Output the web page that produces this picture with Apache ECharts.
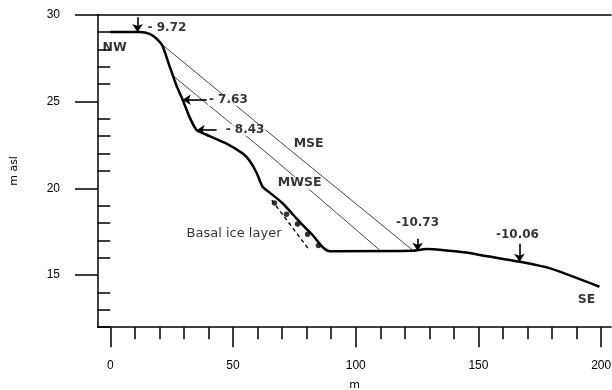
<!DOCTYPE html>
<html>
<head>
<meta charset="utf-8">
<script src="https://cdn.jsdelivr.net/npm/echarts@6/dist/echarts.min.js"></script>
<style>
  html, body { margin: 0; padding: 0; background: #fff; }
  #chart { width: 612px; height: 390px; }
</style>
</head>
<body>
<div id="chart"></div>
<script>
// Surface profile along the NW–SE transect: distance (m) and elevation (m asl)
const profileX = [0, 12, 16, 19, 21.3, 24, 27, 29.5, 32.3, 35.2, 39, 47, 54, 56.7, 59.6, 62, 65, 70.2, 74.7, 78.3, 82.4, 86.5, 89.3, 123, 128.8, 135, 145, 153, 166.7, 178.9, 199.3];
const profileY = [29.0, 29.0, 28.9, 28.6, 28.2, 27.1, 25.9, 25.1, 24.1, 23.35, 23.1, 22.6, 22.0, 21.6, 20.9, 20.1, 19.75, 19.14, 18.45, 17.89, 17.31, 16.62, 16.38, 16.4, 16.5, 16.45, 16.3, 16.1, 15.77, 15.4, 14.33];

// Reconstructed surfaces
const mseX = [20.1, 62.5, 123.1];
const mseY = [28.4, 23.45, 16.45];
const mwseX = [25.4, 64.9, 109.7];
const mwseY = [26.5, 21.9, 16.45];

// Lower boundary of the basal ice layer and the ice markers
const iceBaseX = [65.8, 80.8];
const iceBaseY = [19.32, 16.5];
const iceDotX = [66.9, 71.8, 76.3, 80.4, 84.8];
const iceDotY = [19.15, 18.5, 17.94, 17.36, 16.7];

// Measurement arrows: tail and head in data units
const arrowNames = ['- 9.72', '- 7.63', '- 8.43', '-10.73', '-10.06'];
const arrowFrom = [[11.1, 29.85], [39.3, 25.1], [43.3, 23.35], [125.2, 17.1], [166.7, 16.8]];
const arrowTo = [[11.1, 29.0], [29.5, 25.1], [35.2, 23.35], [125.2, 16.4], [166.7, 15.77]];

// Annotation texts and their anchor points in data units
const noteText = ['- 9.72', '- 7.63', '- 8.43', '-10.73', '-10.06', 'NW', 'SE', 'MSE', 'MWSE', 'Basal ice layer'];
const noteX = [15.2, 39.8, 46.6, 125.2, 165.9, 1.8, 194, 74.3, 67.8, 31.1];
const noteY = [29.22, 25.08, 23.36, 18.0, 17.31, 28.08, 13.57, 22.55, 20.31, 17.41];

// Axis ticks
const xMajorTicks = [0, 50, 100, 150, 200];
const xMinorTicks = [10, 20, 30, 40, 60, 70, 80, 90, 110, 120, 130, 140, 160, 170, 180, 190];
const yMajorTicks = [15, 20, 25, 30];
const yMinorTicks = [12, 13, 14, 16, 17, 18, 19, 21, 22, 23, 24, 26, 27, 28, 29];

const AXIS_FONT = '"Liberation Sans", Arial, sans-serif';
const NOTE_FONT = '"DejaVu Sans", sans-serif';
const zip = (xs, ys) => xs.map((x, i) => [x, ys[i]]);

const noteStyle = {
  '- 9.72': { align: 'left', weight: 'bold', size: 12 },
  '- 7.63': { align: 'left', weight: 'bold', size: 12, bg: true },
  '- 8.43': { align: 'left', weight: 'bold', size: 12, bg: true },
  '-10.73': { align: 'center', weight: 'bold', size: 12 },
  '-10.06': { align: 'center', weight: 'bold', size: 12 },
  'NW': { align: 'center', weight: 'bold', size: 12.5 },
  'SE': { align: 'center', weight: 'bold', size: 12.5 },
  'MSE': { align: 'left', weight: 'bold', size: 12.5, bg: true },
  'MWSE': { align: 'left', weight: 'bold', size: 12.5, bg: true },
  'Basal ice layer': { align: 'left', weight: 'normal', size: 13 }
};

const chart = echarts.init(document.getElementById('chart'), null, { renderer: 'canvas' });

const axisLineStyle = { color: '#000', width: 1.5 };
const hidden = { show: false };

chart.setOption({
  animation: false,
  backgroundColor: '#fff',
  grid: {
    left: 98, top: 14.7, width: 513, height: 312.5,
    containLabel: false, outerBoundsMode: 'none'
  },
  xAxis: [
    {
      type: 'value', min: -5, max: 204, position: 'bottom',
      axisLine: { show: true, onZero: false, lineStyle: axisLineStyle },
      axisTick: { show: true, customValues: xMajorTicks, length: 20, lineStyle: axisLineStyle },
      axisLabel: { customValues: xMajorTicks, margin: 32, fontSize: 12, color: '#000', fontFamily: AXIS_FONT },
      splitLine: hidden,
      name: 'm', nameLocation: 'middle', nameGap: 52,
      nameTextStyle: { fontSize: 11, color: '#000', fontFamily: NOTE_FONT }
    },
    {
      type: 'value', min: -5, max: 204, position: 'bottom',
      axisLine: hidden,
      axisTick: { show: true, customValues: xMinorTicks, length: 12, lineStyle: axisLineStyle },
      axisLabel: hidden, splitLine: hidden
    },
    {
      type: 'value', min: -5, max: 204, position: 'top',
      axisLine: { show: true, onZero: false, lineStyle: axisLineStyle },
      axisTick: hidden, axisLabel: hidden, splitLine: hidden
    }
  ],
  yAxis: [
    {
      type: 'value', min: 12, max: 30, position: 'left',
      axisLine: { show: true, onZero: false, lineStyle: axisLineStyle },
      axisTick: { show: true, customValues: yMajorTicks, length: 23, lineStyle: axisLineStyle },
      axisLabel: { customValues: yMajorTicks, margin: 38, fontSize: 12, color: '#000', fontFamily: AXIS_FONT },
      splitLine: hidden,
      name: 'm asl', nameLocation: 'middle', nameGap: 78, nameRotate: 90,
      nameTextStyle: { fontSize: 11, color: '#000', fontFamily: NOTE_FONT }
    },
    {
      type: 'value', min: 12, max: 30, position: 'left',
      axisLine: hidden,
      axisTick: { show: true, customValues: yMinorTicks, length: 13, lineStyle: axisLineStyle },
      axisLabel: hidden, splitLine: hidden
    }
  ],
  series: [
    {
      name: 'MSE', type: 'line', data: zip(mseX, mseY), showSymbol: false,
      lineStyle: { color: '#333', width: 0.9 }, z: 2
    },
    {
      name: 'MWSE', type: 'line', data: zip(mwseX, mwseY), showSymbol: false,
      lineStyle: { color: '#333', width: 0.9 }, z: 2
    },
    {
      name: 'Basal ice base', type: 'line', data: zip(iceBaseX, iceBaseY), showSymbol: false,
      lineStyle: { color: '#000', width: 1.3, type: [4, 3] }, z: 3
    },
    {
      name: 'Basal ice', type: 'scatter', data: zip(iceDotX, iceDotY),
      symbol: 'circle', symbolSize: 5.5, itemStyle: { color: '#000' }, z: 3
    },
    {
      name: 'Profile', type: 'line', data: zip(profileX, profileY), showSymbol: false,
      smooth: 0.2, lineStyle: { color: '#000', width: 2.5 }, z: 4
    },
    {
      name: 'Labels', type: 'scatter', symbolSize: 1, z: 5, silent: true,
      itemStyle: { color: 'rgba(0,0,0,0)' },
      data: noteText.map((t, i) => {
        const s = noteStyle[t];
        return {
          name: t, value: [noteX[i], noteY[i]],
          label: {
            show: true, position: 'inside', formatter: t,
            align: s.align, verticalAlign: 'middle',
            fontSize: s.size, fontWeight: s.weight,
            color: '#000', fontFamily: NOTE_FONT,
            backgroundColor: s.bg ? '#fff' : 'transparent', padding: s.bg ? [0, 1] : 0
          }
        };
      })
    },
    {
      name: 'Arrows', type: 'lines', coordinateSystem: 'cartesian2d', z: 6,
      symbol: ['none', 'arrow'], symbolSize: 8,
      lineStyle: { color: '#000', width: 1.6, opacity: 1 },
      data: arrowNames.map((n, i) => ({ name: n, coords: [arrowFrom[i], arrowTo[i]] }))
    }
  ]
});
</script>
</body>
</html>
